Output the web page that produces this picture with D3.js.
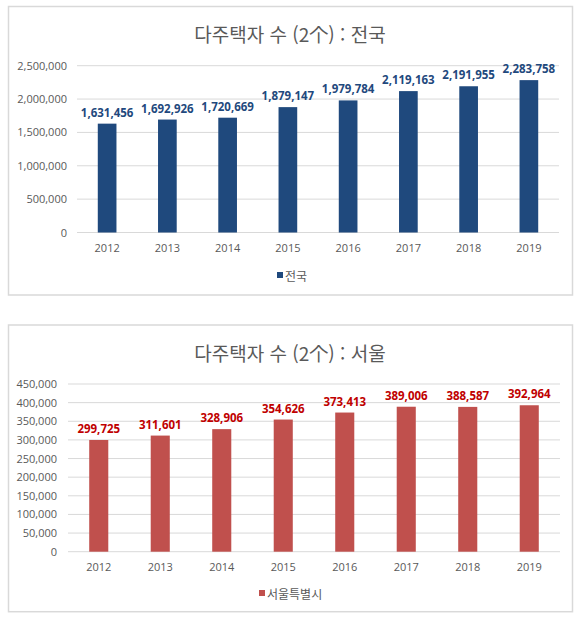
<!DOCTYPE html>
<html lang="ko">
<head>
<meta charset="UTF-8" />
<script src="https://d3js.org/d3.v7.min.js"></script>
<title>다주택자 수</title>
<style>
  body { margin: 0; background: #fff; }
  text { font-family: "Open Sans", "Noto Sans CJK KR", sans-serif; }
  .kr { font-family: "Noto Sans CJK KR", sans-serif; }
</style>
</head>
<body>
<svg width="587" height="623"></svg>
<script>
const years = ["2012", "2013", "2014", "2015", "2016", "2017", "2018", "2019"];
const nationValues = [1631456, 1692926, 1720669, 1879147, 1979784, 2119163, 2191955, 2283758];
const seoulValues = [299725, 311601, 328906, 354626, 373413, 389006, 388587, 392964];
const nationTicks = [0, 500000, 1000000, 1500000, 2000000, 2500000];
const seoulTicks = [0, 50000, 100000, 150000, 200000, 250000, 300000, 350000, 400000, 450000];

const svg = d3.select("svg");
const fmt = d3.format(",");

function drawChart(cfg) {
  const g = svg.append("g");

  // frame
  g.append("rect")
    .attr("x", cfg.box[0]).attr("y", cfg.box[1])
    .attr("width", cfg.box[2] - cfg.box[0]).attr("height", cfg.box[3] - cfg.box[1])
    .attr("fill", "#fff").attr("stroke", "#d9d9d9").attr("stroke-width", 1.5);

  g.append("text")
    .attr("class", "kr")
    .attr("x", 290).attr("y", cfg.titleY)
    .attr("text-anchor", "middle").attr("dominant-baseline", "central")
    .attr("font-size", 19).attr("fill", "#595959")
    .text(cfg.title);

  const x = d3.scaleBand().domain(years).range(cfg.xRange)
    .paddingInner(0.69).paddingOuter(0.345);
  const y = d3.scaleLinear().domain([0, d3.max(cfg.ticks)]).range(cfg.yRange);

  // gridlines
  g.append("g").selectAll("line").data(cfg.ticks).join("line")
    .attr("x1", cfg.xRange[0]).attr("x2", cfg.xRange[1])
    .attr("y1", d => y(d)).attr("y2", d => y(d))
    .attr("stroke", "#d9d9d9").attr("stroke-width", 1);

  // y axis labels
  const yAxis = d3.axisLeft(y).tickValues(cfg.ticks).tickFormat(fmt).tickSize(0).tickPadding(0);
  g.append("g")
    .attr("transform", `translate(${cfg.yLabelX},0)`)
    .call(yAxis)
    .call(a => a.select(".domain").remove())
    .call(a => a.selectAll("text").attr("font-size", 11).attr("fill", "#595959")
      .attr("font-family", "Open Sans, sans-serif"));

  // x axis labels
  const xAxis = d3.axisBottom(x).tickSize(0).tickPadding(0);
  g.append("g")
    .attr("transform", `translate(0,${cfg.xLabelY})`)
    .call(xAxis)
    .call(a => a.select(".domain").remove())
    .call(a => a.selectAll("text").attr("font-size", 11).attr("fill", "#595959")
      .attr("dy", "0.35em").attr("font-family", "Open Sans, sans-serif"));

  // bars
  g.append("g").selectAll("rect").data(cfg.values).join("rect")
    .attr("x", (d, i) => x(years[i]))
    .attr("width", x.bandwidth())
    .attr("y", d => y(d))
    .attr("height", d => y(0) - y(d))
    .attr("fill", cfg.barColor);

  // value labels
  g.append("g").selectAll("text").data(cfg.values).join("text")
    .attr("x", (d, i) => x(years[i]) + x.bandwidth() / 2)
    .attr("y", d => y(d) - 7)
    .attr("text-anchor", "middle")
    .attr("font-size", 11.5).attr("font-weight", "bold")
    .attr("fill", cfg.labelColor)
    .text(d => fmt(d));

  // legend
  g.append("rect")
    .attr("x", cfg.legendX).attr("y", cfg.legendY - 3)
    .attr("width", 6).attr("height", 6)
    .attr("fill", cfg.barColor);
  g.append("text")
    .attr("class", "kr")
    .attr("x", cfg.legendX + 8).attr("y", cfg.legendY)
    .attr("dominant-baseline", "central")
    .attr("font-size", 12).attr("fill", "#595959")
    .text(cfg.legend);
}

drawChart({
  box: [8.5, 6.5, 572.5, 295],
  title: "다주택자 수 (2个) : 전국",
  titleY: 33,
  values: nationValues,
  ticks: nationTicks,
  xRange: [77, 559],
  yRange: [232.5, 65.7],
  yLabelX: 67,
  xLabelY: 248,
  barColor: "#1f497d",
  labelColor: "#1f497d",
  legend: "전국",
  legendX: 277,
  legendY: 275
});

drawChart({
  box: [8.5, 325, 572.5, 611.7],
  title: "다주택자 수 (2个) : 서울",
  titleY: 352,
  values: seoulValues,
  ticks: seoulTicks,
  xRange: [68, 560],
  yRange: [551.7, 384],
  yLabelX: 57,
  xLabelY: 567,
  barColor: "#c0504d",
  labelColor: "#c00000",
  legend: "서울특별시",
  legendX: 259,
  legendY: 593
});
</script>
</body>
</html>
